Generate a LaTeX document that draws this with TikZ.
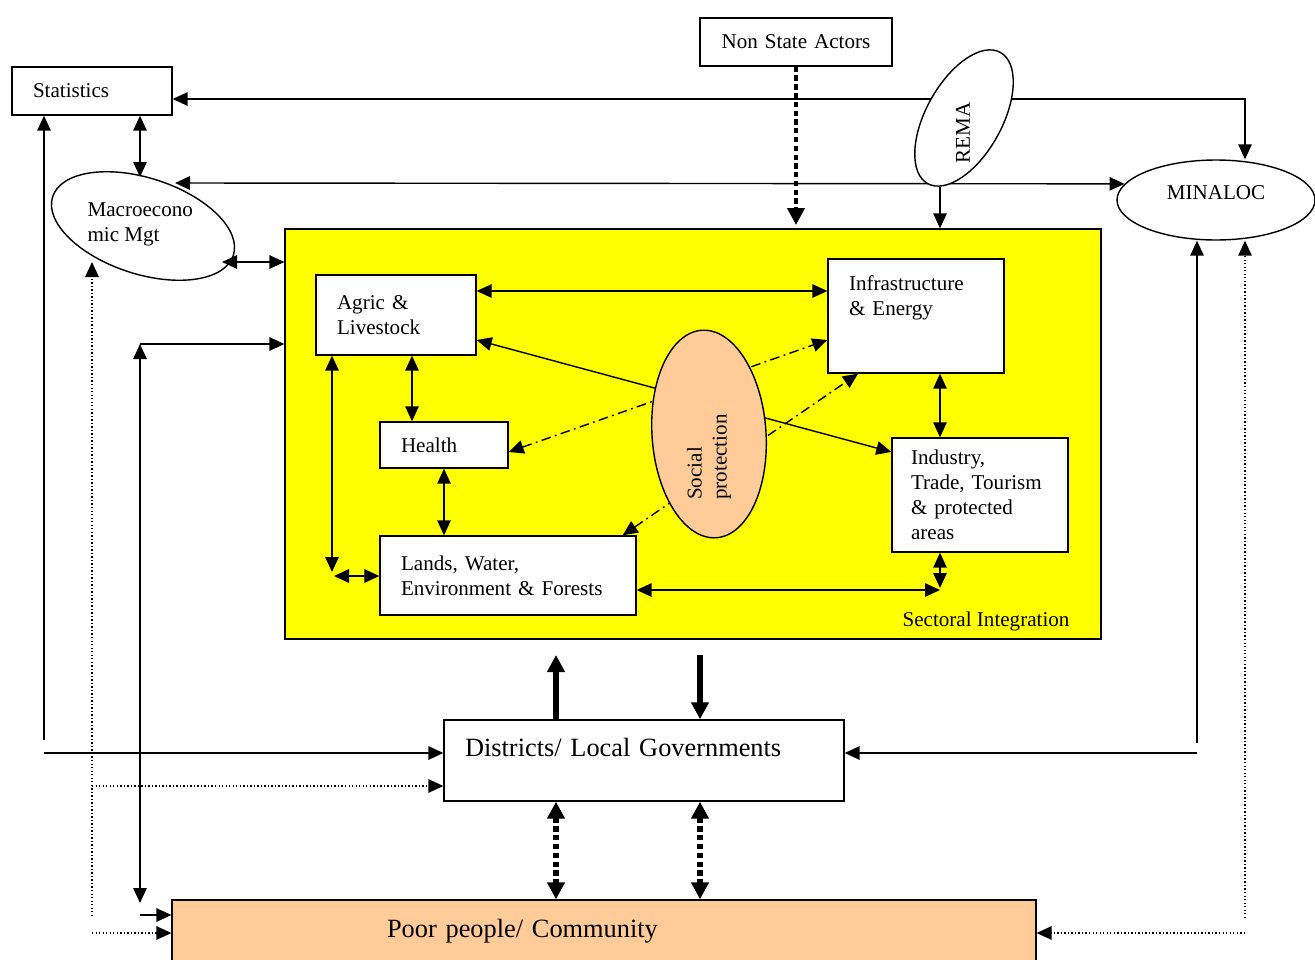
\documentclass[tikz,border=0pt]{standalone}
\usepackage{fontspec}
\setmainfont{Liberation Serif}
\usetikzlibrary{arrows.meta,shapes.geometric,positioning}
\definecolor{peach}{HTML}{FFCC99}
\definecolor{sectyellow}{RGB}{255,255,0}

\begin{document}
\begin{tikzpicture}[x=0.02cm, y=-0.02cm,
	font=\fontsize{12}{14.2}\selectfont,
	>={Triangle[length=0.3cm,width=0.27cm]},
	line width=0.8pt]
	
	\tikzset{
		box/.style={draw, fill=white, align=left, inner xsep=0.42cm, inner ysep=0pt},
		oval/.style={draw, ellipse, inner sep=0pt},
		dashdot/.style={dash pattern=on 5.5pt off 2.5pt on 1pt off 2.5pt},
		fine dots/.style={dash pattern=on 0.8pt off 1.2pt},
		heavy/.style={line width=3pt, >={Triangle[length=0.34cm,width=0.34cm]}},
		heavy dots/.style={heavy, dash pattern=on 3pt off 2pt},
		big/.style={font=\fontsize{15}{18}\selectfont}
	}
	
	\useasboundingbox (0,0) rectangle (1315,960);
	
	% actors round the sectors
	\node[box, text width=2.36cm, minimum height=0.96cm] (stat) at (92,91) {Statistics};
	\node[box, align=center, text width=3cm, minimum height=0.96cm] (nsa) at (796,42) {Non State Actors};
	\node[oval, fill=white, minimum width=3.96cm, minimum height=1.6cm, text depth=0.3cm] (minaloc) at (1216,200) {MINALOC};
	\node[oval, fill=white, minimum width=3.8cm, minimum height=1.92cm, rotate=-18] (macro) at (143,226) {};
	\node[align=left, anchor=west] (macrotxt) at (81,224) {Macroecono\\mic Mgt};
	
	% sectoral integration
	\node[draw, fill=sectyellow, minimum width=16.32cm, minimum height=8.2cm] (sect) at (693,434) {};
	\node (sectlbl) at (986,621) {Sectoral Integration};
	\node[box, text width=2.36cm, minimum height=1.6cm] (agric) at (396,315) {Agric \&\\Livestock};
	\node[box, text width=2.68cm, minimum height=2.28cm] (infra) at (916,316) {Infrastructure\\\& Energy\\[0.3cm]\mbox{}};
	\node[box, text width=1.72cm, minimum height=0.92cm] (health) at (444,445) {Health};
	\node[box, text width=4.28cm, minimum height=1.58cm] (lands) at (508,575.5) {Lands, Water,\\Environment \& Forests};
	\node[box, text width=2.76cm, inner xsep=0.38cm, minimum height=2.28cm] (industry) at (980,495) {Industry,\\Trade, Tourism\\\& protected\\areas};
	
	% local level
	\node[box, big, text width=7.16cm, minimum height=1.62cm] (districts) at (644,760.5) {Districts/ Local Governments\\[-0.1cm]\mbox{}};
	\node[box, big, fill=peach, text width=8.68cm, inner xsep=4.3cm, minimum height=1.24cm] (poor) at (604,931) {Poor people/ Community};
	
	% free ends and bends
	\coordinate (minalocbend) at (1245,99);
	\coordinate (macrotop) at (175,183);
	\coordinate (macrostat) at (140,177);
	\coordinate (macroright) at (222,262);
	\coordinate (macrofoot) at (92,262);
	\coordinate (remafoot) at (940,187);
	\coordinate (nsafoot) at (796,225);
	\coordinate (leftup) at (44,740);
	\coordinate (leftin) at (44,753);
	\coordinate (rightup) at (1197,743);
	\coordinate (rightin) at (1197,753);
	\coordinate (dotright) at (1245,918);
	\coordinate (dotrightin) at (1245,933);
	\coordinate (dotleft) at (92,916);
	\coordinate (dotleftmid) at (92,786);
	\coordinate (dotleftin) at (92,933);
	\coordinate (sectfeed) at (140,344);
	\coordinate (sectfeedfoot) at (140,903);
	\coordinate (poorfeed) at (140,915);
	\coordinate (agricturn) at (332,572);
	\coordinate (landsturn) at (334,576);
	\coordinate (industryturn) at (940,590);
	\coordinate (upflow) at (556,655);
	\coordinate (downflow) at (700,655);
	
	% national links
	\draw[<->] (stat.east |- minalocbend) -- (minalocbend) -- (minalocbend |- minaloc.north);
	\draw[<->] (macrotop) -- (minaloc.170);
	\draw[<->] (stat.south -| macrostat) -- (macrostat);
	\draw[<->] (macroright) -- (macroright -| sect.west);
	\draw[->] (remafoot) -- (remafoot |- sect.north);
	\draw[heavy dots, line width=2.2pt, ->] (nsa.south) -- (nsafoot);
	\draw[->] (leftup) -- (leftup |- stat.south);
	\draw[->] (leftin) -- (leftin -| districts.west);
	\draw[->] (rightup) -- (rightup |- minaloc.south);
	\draw[->] (rightin) -- (rightin -| districts.east);
	\draw[fine dots, ->] (dotright) -- (dotright |- minaloc.south);
	\draw[fine dots, ->] (dotrightin) -- (dotrightin -| poor.east);
	\draw[fine dots, ->] (dotleft) -- (macrofoot);
	\draw[fine dots, ->] (dotleftmid) -- (dotleftmid -| districts.west);
	\draw[fine dots, ->] (dotleftin) -- (dotleftin -| poor.west);
	\draw[<->] (sectfeed) -- (sectfeedfoot);
	\draw[->] (sectfeed) -- (sectfeed -| sect.west);
	\draw[->] (poorfeed) -- (poorfeed -| poor.west);
	
	% links between sectors
	\draw[<->] (agric.east |- 0,291) -- (infra.west |- 0,291);
	\draw[<->] (agric.east |- 0,340) -- (industry.west |- 0,452);
	\draw[dashdot, <->] (health.east |- 0,452) -- (infra.west |- 0,340);
	\draw[dashdot, <->] ([xshift=-0.28cm]lands.north east) -- ([xshift=-1.16cm]infra.south);
	\draw[<->] ([xshift=0.32cm]agric.south) -- ([xshift=0.32cm]agric.south |- health.north);
	\draw[<->] (agric.south -| agricturn) -- (agricturn);
	\draw[<->] (landsturn) -- (landsturn -| lands.west);
	\draw[<->] (health.south) -- (lands.north -| health.south);
	\draw[<->] (infra.south -| industryturn) -- (industry.north -| industryturn);
	\draw[<->] (lands.east |- industryturn) -- (industryturn);
	\draw[<->] (industry.south -| industryturn) -- ([yshift=0.04cm]industryturn);
	
	% districts
	\draw[heavy, ->] (districts.north -| upflow) -- (upflow);
	\draw[heavy, ->] (downflow) -- (districts.north -| downflow);
	\draw[heavy dots, <->] (districts.south -| upflow) -- (poor.north -| upflow);
	\draw[heavy dots, <->] (districts.south -| downflow) -- (poor.north -| downflow);
	
	% ovals on top of the lines
	\node[oval, fill=peach, minimum width=2.28cm, minimum height=4.16cm, rotate=4] (social) at (709,434) {};
	\node[rotate=90, align=left] (socialtxt) at (709,457) {Social\\protection};
	\node[oval, fill=white, minimum width=3cm, minimum height=1.52cm, rotate=61] (rema) at (964,118) {};
	\node[rotate=90] (rematxt) at (963,133) {REMA};
	
\end{tikzpicture}
\end{document}
